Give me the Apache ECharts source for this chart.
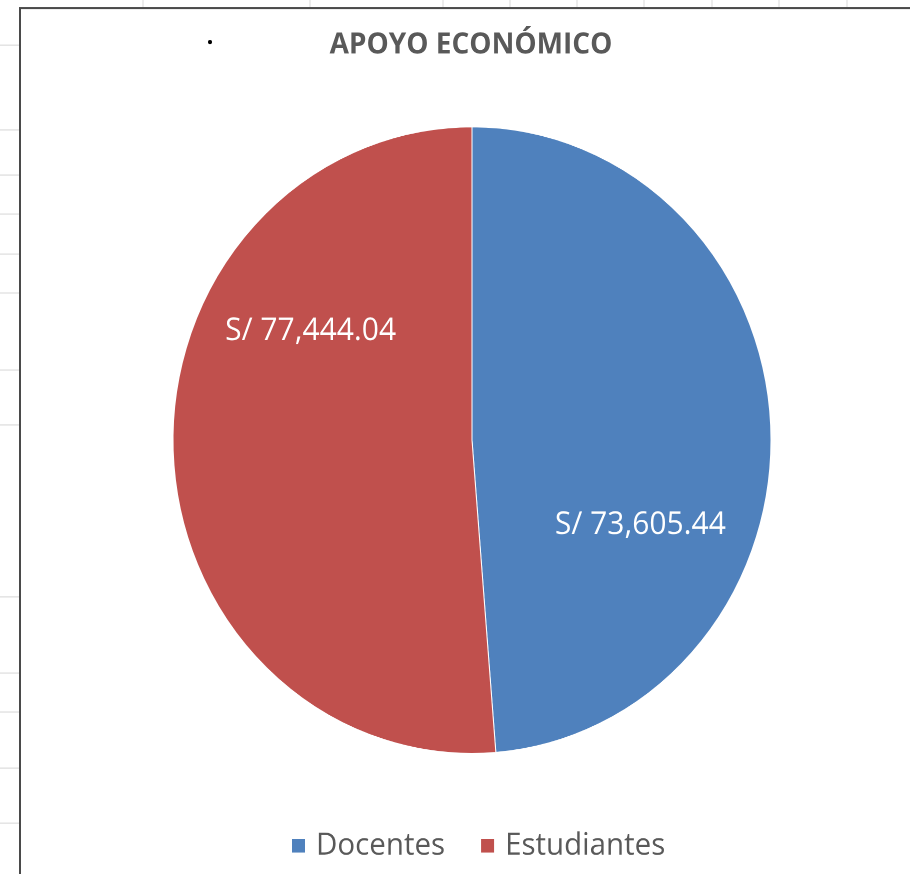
<!DOCTYPE html>
<html>
<head>
<meta charset="utf-8">
<script src="https://cdn.jsdelivr.net/npm/echarts@6/dist/echarts.min.js"></script>
<style>
  html, body { margin: 0; padding: 0; background: #fff; }
  #wrap { width: 910px; height: 874px; overflow: hidden; position: relative; }
  /* la captura original está estirada en vertical, así que se estira el lienzo */
  #chart { width: 910px; height: 834px; transform: scaleY(1.04796); transform-origin: 0 0; }
</style>
</head>
<body>
<div id="wrap"><div id="chart"></div></div>
<script>
// datos del gráfico
const categories = ['Docentes', 'Estudiantes'];
const values = [73605.44, 77444.04];
const colors = ['#4F81BD', '#C0504D'];
const labelOffsets = [[16, 87], [-9, -110]];

const S = 874 / 834;
const fmt = v => 'S/ ' + v.toLocaleString('en-US', { minimumFractionDigits: 2, maximumFractionDigits: 2 });

// rejilla de la hoja de cálculo alrededor del gráfico
const topTicks = [143, 310, 443, 510, 577, 644, 712, 779, 847];
const leftTicks = [45, 130, 175, 214, 254, 293, 370, 425, 597, 673, 712, 768, 823];

const grid = [];
topTicks.forEach(x => grid.push({
  type: 'line', shape: { x1: x, y1: 0, x2: x, y2: 7 / S },
  style: { stroke: '#d9d9d9', lineWidth: 1 }, silent: true
}));
leftTicks.forEach(y => grid.push({
  type: 'line', shape: { x1: 0, y1: y / S, x2: 19, y2: y / S },
  style: { stroke: '#d9d9d9', lineWidth: 1 }, silent: true
}));
// marco del gráfico
grid.push({ type: 'polyline', shape: { points: [[20, 834], [20, 8 / S], [910, 8 / S]] },
  style: { stroke: '#4a4a4a', lineWidth: 2, fill: null }, silent: true });
grid.push({ type: 'circle', shape: { cx: 210, cy: 42 / S, r: 2 }, style: { fill: '#000' }, silent: true });

const myChart = echarts.init(document.getElementById('chart'), null, { devicePixelRatio: 2 });
const option = {
  backgroundColor: '#fff',
  animation: false,
  color: colors,
  graphic: grid,
  title: {
    text: 'APOYO ECONÓMICO',
    left: 466,
    textAlign: 'center',
    top: 24,
    textStyle: { fontFamily: 'Open Sans', fontWeight: 'bold', fontSize: 28, color: '#595959' }
  },
  legend: {
    data: categories,
    bottom: 7,
    left: 285,
    icon: 'rect',
    itemWidth: 15,
    itemHeight: 15,
    itemGap: 34,
    textStyle: { fontFamily: 'Open Sans', fontSize: 29.5, color: '#595959', padding: [0, 0, 0, 5] }
  },
  series: [
    {
      type: 'pie',
      center: [472, 420],
      radius: 299,
      startAngle: 90,
      clockwise: true,
      itemStyle: { borderColor: '#fff', borderWidth: 1 },
      label: {
        show: true,
        position: 'inside',
        formatter: p => fmt(p.value),
        fontFamily: 'Open Sans',
        fontSize: 30,
        color: '#fff'
      },
      labelLine: { show: false },
      data: categories.map((c, i) => ({
        name: c,
        value: values[i],
        label: { offset: labelOffsets[i] }
      }))
    }
  ]
};
myChart.setOption(option);
</script>
</body>
</html>
